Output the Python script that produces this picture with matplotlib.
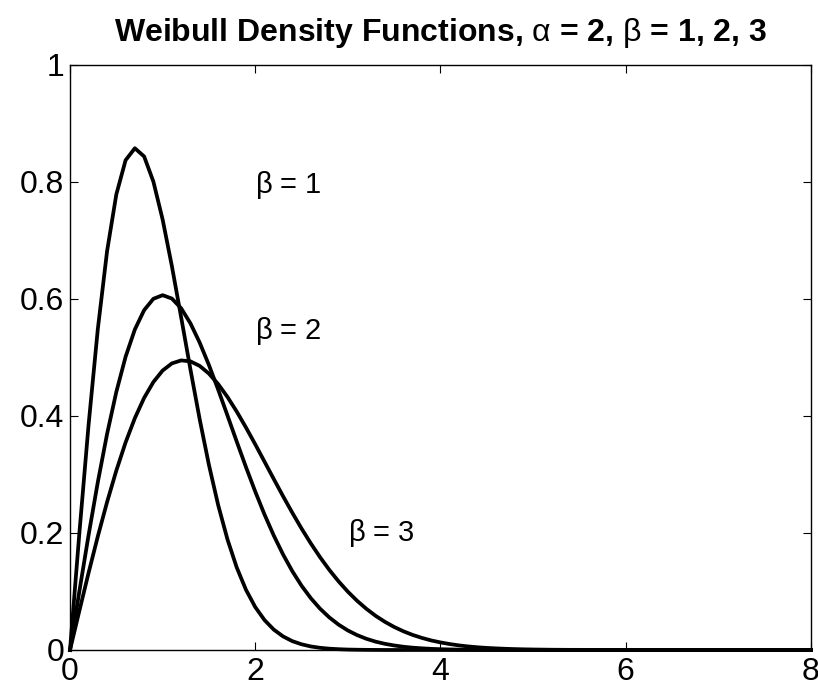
import matplotlib
matplotlib.use('Agg')
import matplotlib.pyplot as plt

plt.rcParams['font.family'] = ['Liberation Sans', 'DejaVu Sans']
plt.rcParams['mathtext.fontset'] = 'custom'
plt.rcParams['mathtext.rm'] = 'Liberation Sans'
plt.rcParams['mathtext.it'] = 'Liberation Sans:italic'

# sample points (step 0.1, flat tail after 5.6)
x = [0.0, 0.1, 0.2, 0.3, 0.4, 0.5, 0.6, 0.7, 0.8, 0.9,
     1.0, 1.1, 1.2, 1.3, 1.4, 1.5, 1.6, 1.7, 1.8, 1.9,
     2.0, 2.1, 2.2, 2.3, 2.4, 2.5, 2.6, 2.7, 2.8, 2.9,
     3.0, 3.1, 3.2, 3.3, 3.4, 3.5, 3.6, 3.7, 3.8, 3.9,
     4.0, 4.1, 4.2, 4.3, 4.4, 4.5, 4.6, 4.7, 4.8, 4.9,
     5.0, 5.1, 5.2, 5.3, 5.4, 5.5, 5.6, 6.0, 7.0, 8.0]

beta1 = [0.0, 0.1980, 0.3843, 0.5484, 0.6817, 0.7788, 0.8372, 0.8577, 0.8437, 0.8007,
         0.7358, 0.6560, 0.5686, 0.4797, 0.3944, 0.3162, 0.2474, 0.1890, 0.1410, 0.1028,
         0.0733, 0.0511, 0.0348, 0.0232, 0.0151, 0.0097, 0.0060, 0.0037, 0.0022, 0.0013,
         0.0007, 0.0004, 0.0002, 0.0001, 0.0, 0.0, 0.0, 0.0, 0.0, 0.0,
         0.0, 0.0, 0.0, 0.0, 0.0, 0.0, 0.0, 0.0, 0.0, 0.0,
         0.0, 0.0, 0.0, 0.0, 0.0, 0.0, 0.0, 0.0, 0.0, 0.0]

beta2 = [0.0, 0.0995, 0.1960, 0.2868, 0.3692, 0.4412, 0.5012, 0.5479, 0.5809, 0.6003,
         0.6065, 0.6007, 0.5841, 0.5584, 0.5254, 0.4870, 0.4449, 0.4008, 0.3562, 0.3125,
         0.2707, 0.2315, 0.1956, 0.1633, 0.1347, 0.1098, 0.0885, 0.0705, 0.0556, 0.0433,
         0.0333, 0.0254, 0.0191, 0.0142, 0.0105, 0.0077, 0.0055, 0.0039, 0.0028, 0.0019,
         0.0013, 0.0009, 0.0006, 0.0004, 0.0003, 0.0002, 0.0001, 0.0001, 0.0, 0.0,
         0.0, 0.0, 0.0, 0.0, 0.0, 0.0, 0.0, 0.0, 0.0, 0.0]

beta3 = [0.0, 0.0664, 0.1316, 0.1941, 0.2528, 0.3067, 0.3548, 0.3963, 0.4309, 0.4580,
         0.4777, 0.4899, 0.4950, 0.4934, 0.4856, 0.4724, 0.4544, 0.4325, 0.4075, 0.3802,
         0.3515, 0.3219, 0.2922, 0.2629, 0.2346, 0.2075, 0.1821, 0.1585, 0.1368, 0.1172,
         0.0996, 0.0840, 0.0703, 0.0583, 0.0481, 0.0393, 0.0319, 0.0257, 0.0206, 0.0163,
         0.0129, 0.0101, 0.0078, 0.0060, 0.0046, 0.0035, 0.0027, 0.0020, 0.0015, 0.0011,
         0.0008, 0.0006, 0.0004, 0.0003, 0.0002, 0.0002, 0.0001, 0.0, 0.0, 0.0]

xticks = [0, 2, 4, 6, 8]
yticks = [0, 0.2, 0.4, 0.6, 0.8, 1]
ytick_labels = ['0', '0.2', '0.4', '0.6', '0.8', '1']

fig = plt.figure(figsize=(8.18, 6.87), dpi=100)
ax = fig.add_axes([0.0856, 0.0539, 0.9058, 0.8515])

for y in (beta1, beta2, beta3):
    ax.plot(x, y, color='black', lw=2.7, clip_on=False)

ax.text(2.0, 0.795, r'$\mathrm{\beta}$ = 1', fontsize=21, va='center', ha='left')
ax.text(2.0, 0.545, r'$\mathrm{\beta}$ = 2', fontsize=21, va='center', ha='left')
ax.text(3.0, 0.2, r'$\mathrm{\beta}$ = 3', fontsize=21, va='center', ha='left')

ax.set_xlim(0, 8)
ax.set_ylim(0, 1)
ax.set_xticks(xticks)
ax.set_yticks(yticks)
ax.set_yticklabels(ytick_labels)
ax.tick_params(direction='in', top=True, right=True, length=6, width=0.8,
               labelsize=23)
ax.tick_params(axis='x', pad=5)
ax.tick_params(axis='y', pad=4)
for s in ax.spines.values():
    s.set_linewidth(1.0)

ax.set_title(r'Weibull Density Functions, $\mathrm{\alpha}$ = 2, $\mathrm{\beta}$ = 1, 2, 3',
             fontsize=23, fontweight='bold', pad=17)

fig.savefig('out.png', dpi=100)
